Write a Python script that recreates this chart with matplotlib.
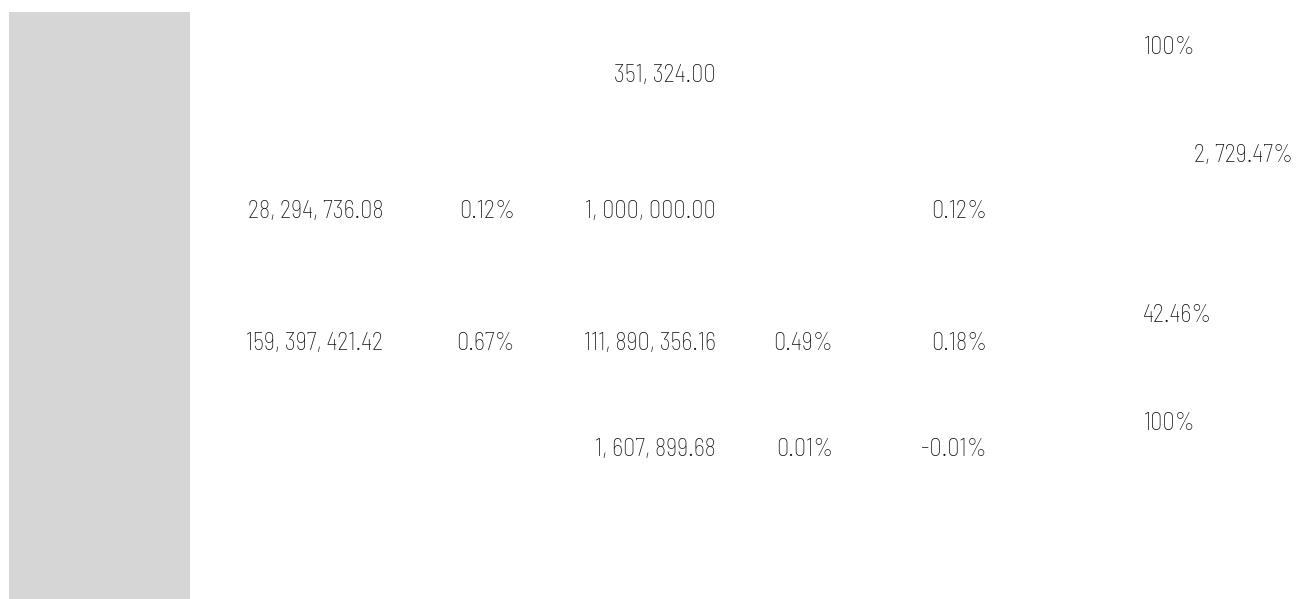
import matplotlib.pyplot as plt
from matplotlib.patches import Rectangle

# table values, one entry per row (None = empty cell)
amount_prev = [None, 28294736.08, 159397421.42, None]
share_prev = [None, 0.12, 0.67, None]
amount_curr = [351324.00, 1000000.00, 111890356.16, 1607899.68]
share_curr = [None, None, 0.49, 0.01]
share_diff = [None, 0.12, 0.18, -0.01]
growth = [100, 2729.47, 42.46, 100]

# layout (pixels)
row_y = [75, 211, 343, 450]
col_right = [383, 515, 716, 833, 987]


def fmt_amount(v):
    return f"{v:,.2f}".replace(",", ", ")


def fmt_pct(v):
    return f"{v:.2f}%"


def fmt_growth(v):
    if v == int(v):
        return f"{int(v)}%"
    return f"{v:,.2f}%".replace(",", ", ")


fig = plt.figure(figsize=(13.01, 5.99), dpi=100)
ax = fig.add_axes([0, 0, 1, 1])
ax.set_xlim(0, 1301)
ax.set_ylim(599, 0)
ax.axis("off")

ax.add_patch(Rectangle((9, 12), 181, 587, color="#d6d6d6", lw=0))

font = dict(family=["Barlow Semi Condensed", "Archivo Narrow", "DejaVu Sans"],
            weight="light", fontsize=17.5, color="#111111")

columns = [
    (amount_prev, fmt_amount),
    (share_prev, fmt_pct),
    (amount_curr, fmt_amount),
    (share_curr, fmt_pct),
    (share_diff, fmt_pct),
]

for (values, fmt), x in zip(columns, col_right):
    for v, y in zip(values, row_y):
        if v is None:
            continue
        ax.text(x, y, fmt(v), ha="right", va="center", **font)

for v, y in zip(growth, row_y):
    if v > 1000:
        ax.text(1293, y - 56, fmt_growth(v), ha="right", va="center", **font)
    else:
        ax.text(1143, y - 27, fmt_growth(v), ha="left", va="center", **font)

fig.savefig("out.png", dpi=100)
